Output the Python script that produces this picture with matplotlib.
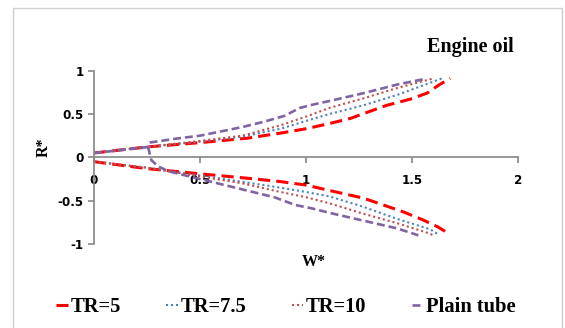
import numpy as np
import matplotlib
matplotlib.use('Agg')
import matplotlib.pyplot as plt
from matplotlib.patches import Rectangle

# 数据
tr5_up_w = [0, 0.25, 0.5, 0.72, 0.88, 1.0, 1.11, 1.21, 1.38, 1.49, 1.57, 1.63, 1.68]
tr5_up_r = [0.05, 0.12, 0.17, 0.22, 0.28, 0.33, 0.39, 0.45, 0.60, 0.67, 0.74, 0.84, 0.91]
tr5_lo_w = [0, 0.25, 0.5, 0.72, 0.88, 1.0, 1.16, 1.27, 1.365, 1.46, 1.55, 1.62, 1.66]
tr5_lo_r = [-0.05, -0.13, -0.19, -0.24, -0.28, -0.32, -0.41, -0.47, -0.55, -0.63, -0.72, -0.80, -0.86]

tr75_up_w = [0, 0.25, 0.5, 0.7, 0.88, 1.0, 1.11, 1.27, 1.43, 1.585, 1.64]
tr75_up_r = [0.05, 0.12, 0.18, 0.24, 0.33, 0.42, 0.50, 0.60, 0.72, 0.86, 0.91]
tr75_lo_w = [0, 0.25, 0.5, 0.64, 0.88, 1.0, 1.11, 1.27, 1.43, 1.585, 1.625]
tr75_lo_r = [-0.05, -0.12, -0.21, -0.26, -0.35, -0.40, -0.45, -0.57, -0.71, -0.83, -0.89]

tr10_up_w = [0, 0.25, 0.5, 0.7, 0.88, 1.0, 1.11, 1.27, 1.43, 1.6]
tr10_up_r = [0.05, 0.12, 0.19, 0.25, 0.37, 0.47, 0.57, 0.68, 0.80, 0.91]
tr10_lo_w = [0, 0.25, 0.5, 0.7, 0.88, 1.0, 1.11, 1.27, 1.43, 1.585, 1.6]
tr10_lo_r = [-0.05, -0.12, -0.22, -0.30, -0.40, -0.46, -0.53, -0.65, -0.76, -0.88, -0.90]

plain_up_w = [0, 0.255, 0.26, 0.4, 0.5, 0.6, 0.7, 0.8, 0.9, 0.97, 1.035, 1.11, 1.27, 1.43, 1.55]
plain_up_r = [0.05, 0.12, 0.17, 0.22, 0.25, 0.30, 0.35, 0.41, 0.48, 0.57, 0.61, 0.65, 0.74, 0.84, 0.90]
plain_lo_w = [0.255, 0.27, 0.30, 0.35, 0.45, 0.55, 0.7, 0.85, 0.95, 1.03, 1.11, 1.27, 1.43, 1.53]
plain_lo_r = [0.12, -0.03, -0.10, -0.16, -0.22, -0.28, -0.37, -0.46, -0.55, -0.59, -0.64, -0.73, -0.82, -0.90]

labels = ['TR=5', 'TR=7.5', 'TR=10', 'Plain tube']
x_ticks = [0, 0.5, 1, 1.5, 2]
x_tick_labels = ['0', '0.5', '1', '1.5', '2']
y_ticks = [-1, -0.5, 0, 0.5, 1]
y_tick_labels = ['-1', '-0.5', '0', '0.5', '1']


def join(uw, ur, lw, lr):
    # 上下两支用 NaN 断开
    return uw + [np.nan] + lw, ur + [np.nan] + lr


fig = plt.figure(figsize=(5.65, 3.28), dpi=100)
ax = fig.add_axes([94 / 565, 1 - 244 / 328, 424 / 565, 173.3 / 328])

series = [
    (join(tr5_up_w, tr5_up_r, tr5_lo_w, tr5_lo_r), '#FF0000', 2.2, (4, 2)),
    (join(tr75_up_w, tr75_up_r, tr75_lo_w, tr75_lo_r), '#4F81BD', 1.5, (1, 1.4)),
    (join(tr10_up_w, tr10_up_r, tr10_lo_w, tr10_lo_r), '#C0504D', 1.5, (1, 1.4)),
    (join(plain_up_w, plain_up_r, plain_lo_w, plain_lo_r), '#8064A2', 1.9, (3, 1.5)),
]
for (xy, color, lw, dash), lab in zip(series, labels):
    ax.plot(xy[0], xy[1], color=color, lw=lw, dashes=dash,
            dash_capstyle='butt', label=lab)

ax.set_xlim(0, 2)
ax.set_ylim(-1, 1)
ax.spines['top'].set_visible(False)
ax.spines['right'].set_visible(False)
ax.spines['bottom'].set_position(('data', 0))
for s in ['left', 'bottom']:
    ax.spines[s].set_color('#868686')
    ax.spines[s].set_linewidth(1.2)

ax.set_xticks(x_ticks)
ax.set_xticklabels(x_tick_labels)
ax.set_yticks(y_ticks)
ax.set_yticklabels(y_tick_labels)
ax.tick_params(axis='both', direction='out', length=4, width=1.2, color='#868686',
               labelsize=8.6)
ax.tick_params(axis='x', pad=8)
ax.tick_params(axis='y', pad=3.5)
for t in ax.get_xticklabels() + ax.get_yticklabels():
    t.set_fontfamily('DejaVu Sans')
    t.set_fontweight('bold')

serif = 'Liberation Serif'
fig.text(427 / 565, 1 - 52 / 328, 'Engine oil', fontsize=14.5, fontweight='bold',
         family=serif, ha='left', va='baseline')
fig.text(314 / 565, 1 - 262 / 328, 'W*', fontsize=11.5, fontweight='bold',
         family=serif, ha='center', va='center')
fig.text(44 / 565, 1 - 147 / 328, 'R*', fontsize=11.5, fontweight='bold',
         family=serif, ha='center', va='center', rotation=90)

fig.legend(loc='center', bbox_to_anchor=(286 / 565, 1 - 307 / 328), ncol=4,
           frameon=False, handlelength=0.55, handletextpad=0.15, columnspacing=2.2,
           prop={'family': serif, 'weight': 'bold', 'size': 14.8})

# 外框
fig.patches.append(Rectangle((13 / 565, -0.2), (562 - 13) / 565, 0.2 + 1 - 8 / 328,
                             transform=fig.transFigure, fill=False,
                             edgecolor='#D0D0D0', lw=1))

fig.savefig('out.png', dpi=100)
